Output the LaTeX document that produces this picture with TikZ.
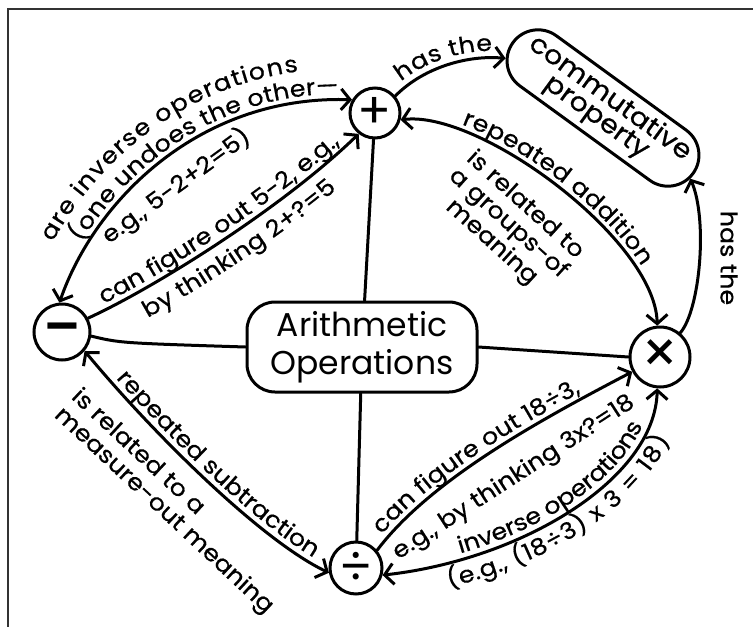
\documentclass[tikz,border=0pt]{standalone}
\usepackage{fontspec}
\setmainfont{Poppins}
\newfontfamily\hand[FakeStretch=1.1,FakeBold=0.6]{Poppins}
\newcommand\hl{\hand\fontsize{23}{25}\selectfont}
\usetikzlibrary{arrows.meta,decorations.text,shapes.misc}
\begin{document}
\begin{tikzpicture}[x=1pt,y=-1pt,
  >={Straight Barb[length=9pt,width=21pt]},
  conn/.style={line width=3pt, line cap=round, line join=round},
  op/.style={circle, draw, line width=3pt, inner sep=0pt},
  lbl/.style={inner sep=0pt, font=\hl},
  frame/.style={line width=1.3pt, black!80}]
\useasboundingbox (0,0) rectangle (753,627);
\draw[frame] (8,627) -- (8,9) -- (753,9);

% concepts
\node[op, minimum size=50pt, font=\fontsize{50}{50}\selectfont] (plus) at (375,113) {+};
\node[op, minimum size=56pt, font=\fontsize{44}{44}\selectfont\bfseries] (minus) at (62,332) {\scalebox{1.5}[1]{−}};
\node[op, minimum size=60pt, font=\fontsize{58}{58}\selectfont] (times) at (660,357) {×};
\node[op, minimum size=52pt, font=\fontsize{50}{50}\selectfont] (div) at (356,568) {÷};
\node[draw, line width=3pt, rounded corners=28pt, minimum width=230pt, minimum height=90pt,
      align=center, font=\fontsize{33}{38}\selectfont] (arith) at (362,347) {Arithmetic\\Operations};
\node[draw, line width=3pt, rounded rectangle, rotate=-36, minimum width=222pt, minimum height=62pt,
      inner sep=2pt, align=center, font=\hand\fontsize{26}{23}\selectfont] (comm) at (603,108) {commutative\\property};

% connectors
\draw[conn,->] (plus.40) .. controls (425,66) and (470,55) .. (comm.189);
\draw[conn,->] (times.50) .. controls (700,310) and (708,220) .. (comm.-3);
\draw[conn,<->] (plus.-15) .. controls (480,110) and (655,240) .. (times.95);
\draw[conn,<->] (minus.95) .. controls (95,200) and (200,95) .. (plus.150);
\draw[conn,->] (minus.28) .. controls (150,290) and (280,210) .. (plus.232);
\draw[conn] (plus) -- (arith);
\draw[conn] (minus.-8) .. controls (120,343) .. (arith.west);
\draw[conn] (arith.east) -- (times.west);
\draw[conn] (arith) -- (div);
\draw[conn,<->] (minus.-40) .. controls (150,430) and (260,540) .. (div.190);
\draw[conn,->] (div.40) .. controls (430,480) and (540,420) .. (times.208);
\draw[conn,<->] (div.-15) .. controls (520,560) and (655,480) .. (times.265);

% labels along connectors
\path[decorate, decoration={text along path, raise=7pt, text align={align=center},
   text={|\hl|has the}}] (plus.40) .. controls (425,66) and (470,55) .. (comm.189);
\path[decorate, decoration={text along path, raise=31pt, text align={align=center},
   text={|\hl|are inverse operations}}] (minus.95) .. controls (95,200) and (200,95) .. (plus.150);
\path[decorate, decoration={text along path, raise=6pt, text align={align=center, left indent=50pt},
   text={|\hl|(one undoes the other—}}] (minus.95) .. controls (95,200) and (200,95) .. (plus.150);
\path[decorate, decoration={text along path, raise=6pt, text align={align=center},
   text={|\hl|can figure out 5-2, e.g.,}}] (minus.28) .. controls (150,290) and (280,210) .. (plus.232);
\path[decorate, decoration={text along path, raise=-27pt, text align={align=center},
   text={|\hl|by thinking 2+?=5}}] (minus.28) .. controls (150,290) and (280,210) .. (plus.232);
\path[decorate, decoration={text along path, raise=6pt, text align={align=center},
   text={|\hl|repeated addition}}] (plus.-15) .. controls (480,110) and (655,240) .. (times.95);
\path[decorate, decoration={text along path, raise=6pt, text align={align=center, left indent=20pt},
   text={|\hl|repeated subtraction}}] (minus.-40) .. controls (150,430) and (260,540) .. (div.190);
\path[decorate, decoration={text along path, raise=6pt, text align={align=center, right indent=40pt},
   text={|\hl|can figure out 18÷3,}}] (div.40) .. controls (430,480) and (540,420) .. (times.208);
\path[decorate, decoration={text along path, raise=6pt, text align={align=center, left indent=40pt},
   text={|\hl|inverse operations}}] (div.-15) .. controls (520,560) and (655,480) .. (times.265);
\path[decorate, decoration={text along path, raise=-24pt, text align={align=center, left indent=20pt},
   text={|\hl|(e.g., (18÷3) x 3 = 18)}}] (div.-15) .. controls (520,560) and (655,480) .. (times.265);

% block labels
\node[lbl, rotate=36] (eglab) at (176,186) {e.g., 5-2+2=5)};
\node[lbl, rotate=33] (thinklab) at (514,478) {e.g., by thinking 3x?=18};
\node[lbl, rotate=-42, align=center] (addlab) at (508,224) {is related to\\a groups-of\\meaning};
\node[lbl, rotate=-43, align=left] (sublab) at (172,502) {is related to a\\measure-out meaning};
\node[lbl, rotate=-90] (hasr) at (729,258) {has the};
\end{tikzpicture}
\end{document}
